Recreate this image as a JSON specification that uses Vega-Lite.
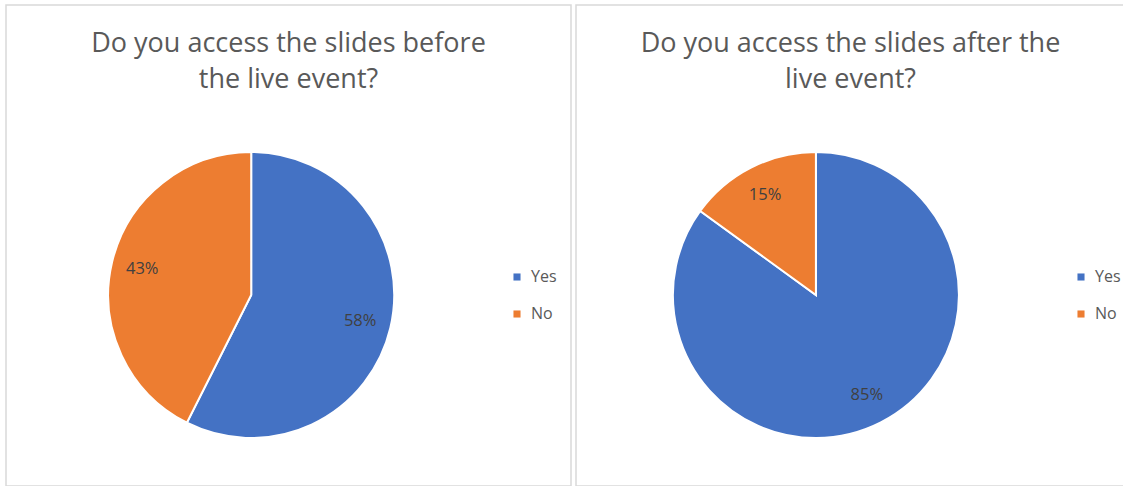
{
  "$schema": "https://vega.github.io/schema/vega-lite/v6.json",
  "padding": {"left": 5, "top": 4, "right": 0, "bottom": 0},
  "background": "white",
  "spacing": 3,
  "config": {
    "view": {"stroke": "#d9d9d9", "strokeWidth": 1.5},
    "font": "Open Sans",
    "title": {"font": "Open Sans", "fontSize": 27, "fontWeight": "normal", "color": "#595959", "lineHeight": 36, "anchor": "middle", "frame": "group", "offset": -89},
    "legend": {"labelFont": "Open Sans", "labelFontSize": 16, "labelColor": "#595959", "symbolType": "square", "symbolSize": 50, "symbolStrokeWidth": 0, "rowPadding": 21, "labelOffset": 6, "title": null}
  },
  "datasets": {
    "before": [
      {"answer": "Yes", "value": 58, "label": "58%"},
      {"answer": "No", "value": 43, "label": "43%"}
    ],
    "after": [
      {"answer": "Yes", "value": 85, "label": "85%"},
      {"answer": "No", "value": 15, "label": "15%"}
    ]
  },
  "resolve": {"scale": {"color": "independent", "x": "independent", "y": "independent"}, "legend": {"color": "independent"}},
  "hconcat": [
    {
      "width": 565,
      "height": 481,
      "title": {"text": ["Do you access the slides before", "the live event?"]},
      "data": {"name": "before"},
      "encoding": {
        "theta": {"field": "value", "type": "quantitative", "stack": true},
        "order": {"field": "answer", "sort": "descending"},
        "x": {"datum": 0.434, "type": "quantitative", "scale": {"domain": [0, 1]}, "axis": null},
        "y": {"datum": 0.397, "type": "quantitative", "scale": {"domain": [0, 1]}, "axis": null}
      },
      "layer": [
        {
          "mark": {"type": "arc", "radius": 143, "stroke": "white", "strokeWidth": 2},
          "encoding": {
            "color": {"field": "answer", "type": "nominal", "scale": {"domain": ["Yes", "No"], "range": ["#4472C4", "#ED7D31"]}, "legend": {"orient": "none", "legendX": 503, "legendY": 264}}
          }
        },
        {
          "mark": {"type": "text", "radius": 112, "fontSize": 16.5, "color": "#404040"},
          "encoding": {"text": {"field": "label"}}
        }
      ]
    },
    {
      "width": 549,
      "height": 481,
      "title": {"text": ["Do you access the slides after the", "live event?"]},
      "data": {"name": "after"},
      "encoding": {
        "theta": {"field": "value", "type": "quantitative", "stack": true},
        "order": {"field": "answer", "sort": "descending"},
        "x": {"datum": 0.437, "type": "quantitative", "scale": {"domain": [0, 1]}, "axis": null},
        "y": {"datum": 0.397, "type": "quantitative", "scale": {"domain": [0, 1]}, "axis": null}
      },
      "layer": [
        {
          "mark": {"type": "arc", "radius": 143, "stroke": "white", "strokeWidth": 2},
          "encoding": {
            "color": {"field": "answer", "type": "nominal", "scale": {"domain": ["Yes", "No"], "range": ["#4472C4", "#ED7D31"]}, "legend": {"orient": "none", "legendX": 497, "legendY": 264}}
          }
        },
        {
          "mark": {"type": "text", "radius": 112, "fontSize": 16.5, "color": "#404040"},
          "encoding": {"text": {"field": "label"}}
        }
      ]
    }
  ]
}
